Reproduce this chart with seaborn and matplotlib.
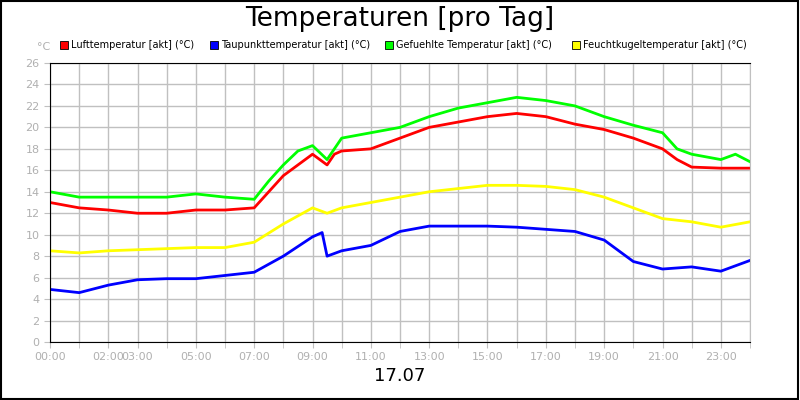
import matplotlib
matplotlib.use("Agg")
import matplotlib.pyplot as plt
import seaborn as sns
from matplotlib.patches import Rectangle

hours_luft = [0,1,2,3,4,5,6,7,7.5,8,8.5,9,9.5,9.75,10,11,12,13,14,15,16,17,18,19,20,21,21.5,22,23,24]
luft = [13,12.5,12.3,12,12,12.3,12.3,12.5,14,15.5,16.5,17.5,16.5,17.5,17.8,18,19,20,20.5,21,21.3,21,20.3,19.8,19,18,17,16.3,16.2,16.2]
hours_gef = [0,1,2,3,4,5,6,7,7.5,8,8.5,9,9.5,10,11,12,13,14,15,16,17,18,19,20,21,21.5,22,23,23.5,24]
gef = [14,13.5,13.5,13.5,13.5,13.8,13.5,13.3,15,16.5,17.8,18.3,17,19,19.5,20,21,21.8,22.3,22.8,22.5,22,21,20.2,19.5,18,17.5,17,17.5,16.8]
hours_feucht = [0,1,2,3,4,5,6,7,8,9,9.5,10,11,12,13,14,15,16,17,18,19,20,21,22,23,24]
feucht = [8.5,8.3,8.5,8.6,8.7,8.8,8.8,9.3,11,12.5,12,12.5,13,13.5,14,14.3,14.6,14.6,14.5,14.2,13.5,12.5,11.5,11.2,10.7,11.2]
hours_tau = [0,1,2,3,4,5,6,7,8,9,9.33,9.5,10,11,12,13,14,15,16,17,18,19,20,21,22,23,24]
tau = [4.9,4.6,5.3,5.8,5.9,5.9,6.2,6.5,8,9.8,10.2,8,8.5,9,10.3,10.8,10.8,10.8,10.7,10.5,10.3,9.5,7.5,6.8,7,6.6,7.6]

tick_hours = [0,2,3,5,7,9,11,13,15,17,19,21,23]
tick_labels = ["00:00","02:00","03:00","05:00","07:00","09:00","11:00","13:00","15:00","17:00","19:00","21:00","23:00"]
series = [("Lufttemperatur [akt] (°C)", hours_luft, luft, "#ff0000"),
          ("Taupunkttemperatur [akt] (°C)", hours_tau, tau, "#0000ff"),
          ("Gefuehlte Temperatur [akt] (°C)", hours_gef, gef, "#00ff00"),
          ("Feuchtkugeltemperatur [akt] (°C)", hours_feucht, feucht, "#ffff00")]

fig = plt.figure(figsize=(8, 4), dpi=100)
ax = fig.add_axes([50/800, 58/400, 700/800, 279/400])
for name, h, v, c in series:
    sns.lineplot(x=h, y=v, ax=ax, color=c, linewidth=2)
ax.set_xlim(0, 24)
ax.set_ylim(0, 26)
ax.set_yticks(range(0, 27, 2))
ax.set_xticks(tick_hours)
ax.set_xticklabels(tick_labels)
ax.set_xticks(range(25), minor=True)
ax.grid(True, which="both", color="#c0c0c0", linewidth=1)
ax.tick_params(colors="#c0c0c0", labelsize=8, length=4)
ax.tick_params(which="minor", length=4, color="#c0c0c0")
for t in ax.get_xticklabels() + ax.get_yticklabels():
    t.set_color("#b0b0b0")
for s in ax.spines.values():
    s.set_color("black")
ax.spines["right"].set_color("#c0c0c0")

fig.text(0.5, 0.953, "Temperaturen [pro Tag]", ha="center", va="center", fontsize=19)
fig.text(0.5, 0.06, "17.07", ha="center", va="center", fontsize=13)
fig.text(37/800, 1-47/400, "°C", ha="left", va="center", fontsize=8, color="#b0b0b0")
xs = [60, 210, 385, 572]
for (name, h, v, c), x in zip(series, xs):
    fig.patches.append(Rectangle((x/800, 1-49/400), 8/800, 8/400, transform=fig.transFigure,
                                 facecolor=c, edgecolor="black", linewidth=0.6))
    fig.text((x+11)/800, 1-44.5/400, name, ha="left", va="center", fontsize=7)
fig.patches.append(Rectangle((0.001, 0.002), 0.997, 0.995, transform=fig.transFigure,
                             fill=False, edgecolor="black", linewidth=1.5))
fig.savefig("out.png", dpi=100)
